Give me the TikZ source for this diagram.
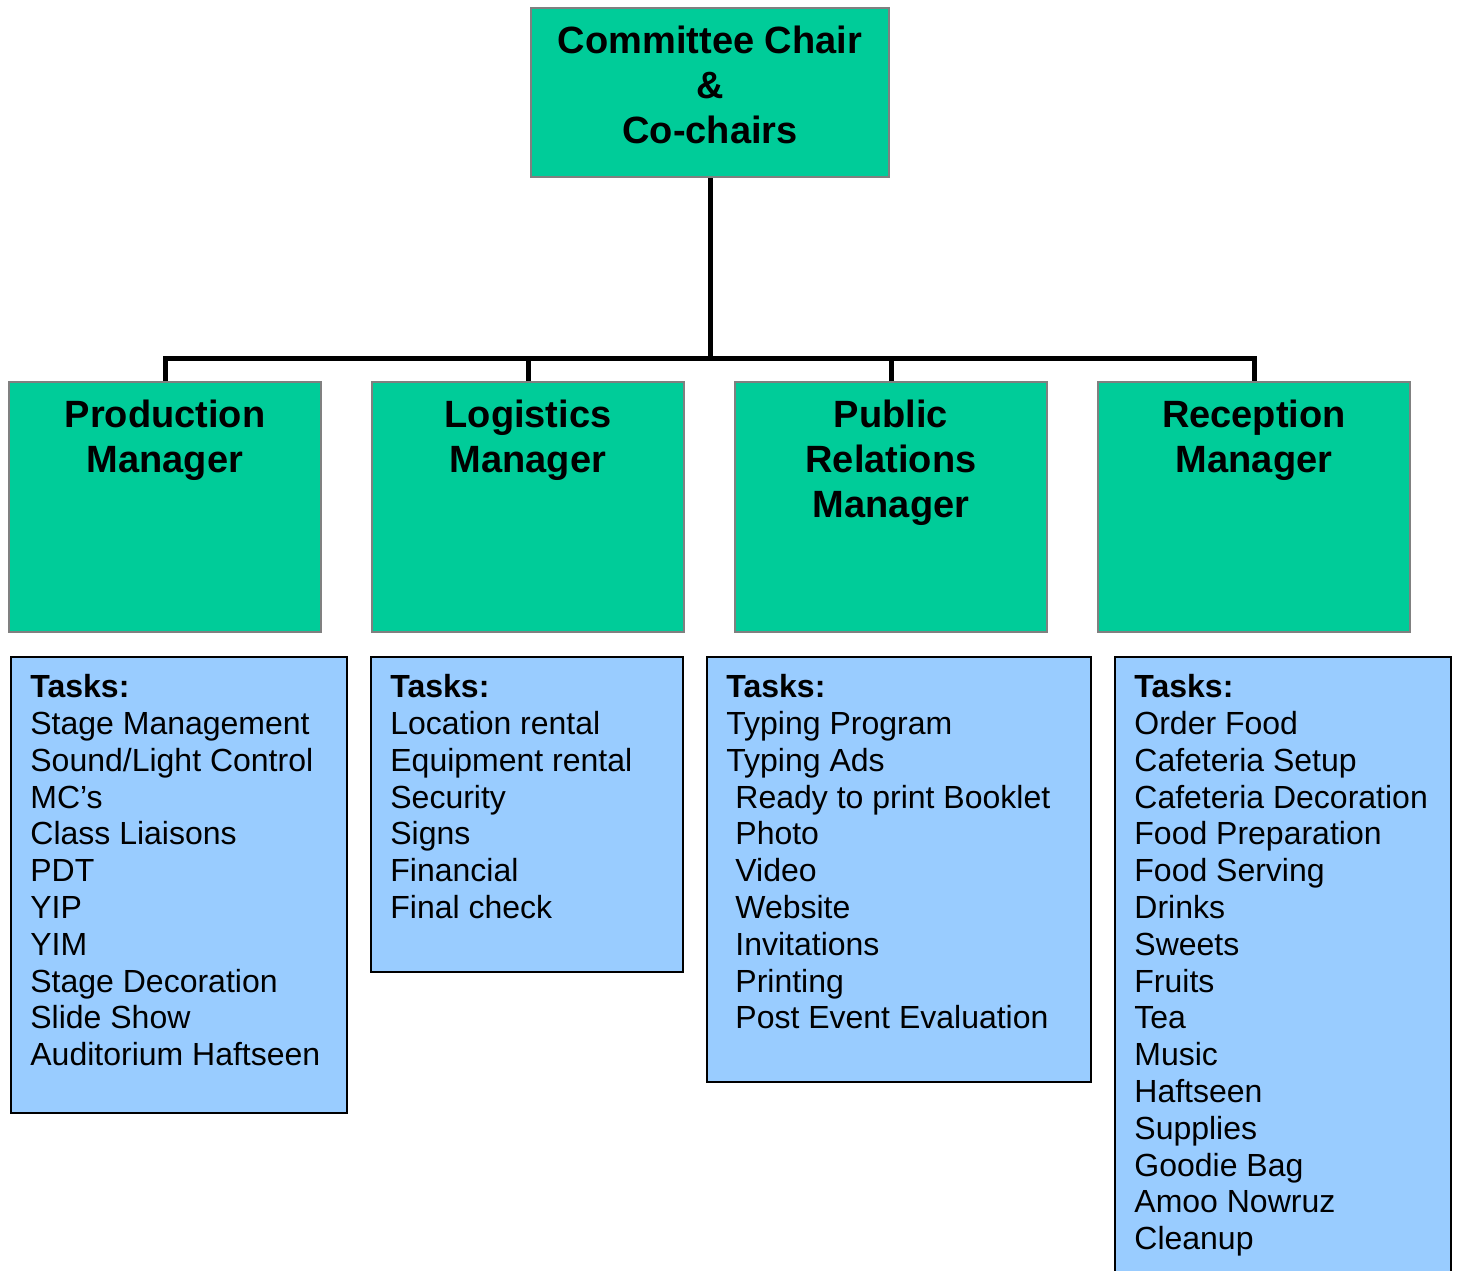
\documentclass[tikz,border=0pt]{standalone}
\usepackage{fontspec}
\setmainfont{Liberation Sans}
\usepackage{xcolor}
\definecolor{mgrgreen}{HTML}{00CC99}
\definecolor{taskblue}{HTML}{99CCFF}
\newcommand{\tind}{\hspace*{4.5pt}}

\begin{document}
\begin{tikzpicture}[x=0.5pt,y=-0.5pt,
  mgr/.style={draw=gray,line width=1pt,fill=mgrgreen,minimum width=156pt,minimum height=125pt,inner sep=0pt},
  head/.style={anchor=north,align=center,inner sep=0pt,yshift=-9.3pt,font=\fontsize{19}{22.6}\selectfont\bfseries},
  taskbox/.style={draw,line width=1pt,fill=taskblue,anchor=north west,inner sep=0pt},
  tasks/.style={anchor=north west,align=left,inner sep=0pt,xshift=10pt,yshift=-9pt,font=\fontsize{16}{18.4}\selectfont},
  link/.style={line width=2.5pt}]
\useasboundingbox (0,0) rectangle (1457,1270);
% chair and the four managers
\node[mgr,minimum width=179pt,minimum height=84.5pt] (chair) at (710,92.5) {};
\node[head] (chairtxt) at (chair.north) {Committee Chair\\\&\\Co-chairs};
\node[mgr] (prod) at (165,507) {};
\node[mgr] (logi) at (528,507) {};
\node[mgr] (pubr) at (891,507) {};
\node[mgr] (recp) at (1254,507) {};
\node[head] (prodtxt) at (prod.north) {Production\\Manager};
\node[head] (logitxt) at (logi.north) {Logistics\\Manager};
\node[head] (pubrtxt) at (pubr.north) {Public\\Relations\\Manager};
\node[head] (recptxt) at (recp.north) {Reception\\Manager};
% tree lines
\coordinate (bus) at (710,358);
\draw[link] (chair.south) -- (bus);
\draw[link] (prod.north) |- (bus) -| (recp.north);
\foreach \m in {logi,pubr} \draw[link] (\m.north) -- (\m.north |- bus);
% task lists
\node[taskbox,minimum width=168pt,minimum height=228pt] (t1) at (10,656) {};
\node[taskbox,minimum width=156pt,minimum height=157.5pt] (t2) at (370,656) {};
\node[taskbox,minimum width=192pt,minimum height=212.5pt] (t3) at (706,656) {};
\node[taskbox,minimum width=168pt,minimum height=312pt] (t4) at (1114,656) {};
\node[tasks] (t1txt) at (t1.north west) {\textbf{Tasks:}\\Stage Management\\Sound/Light Control\\MC’s\\Class Liaisons\\PDT\\YIP\\YIM\\Stage Decoration\\Slide Show\\Auditorium Haftseen};
\node[tasks] (t2txt) at (t2.north west) {\textbf{Tasks:}\\Location rental\\Equipment rental\\Security\\Signs\\Financial\\Final check};
\node[tasks] (t3txt) at (t3.north west) {\textbf{Tasks:}\\Typing Program\\Typing Ads\\\tind Ready to print Booklet\\\tind Photo\\\tind Video\\\tind Website\\\tind Invitations\\\tind Printing\\\tind Post Event Evaluation};
\node[tasks] (t4txt) at (t4.north west) {\textbf{Tasks:}\\Order Food\\Cafeteria Setup\\Cafeteria Decoration\\Food Preparation\\Food Serving\\Drinks\\Sweets\\Fruits\\Tea\\Music\\Haftseen\\Supplies\\Goodie Bag\\Amoo Nowruz\\Cleanup};
\end{tikzpicture}
\end{document}
